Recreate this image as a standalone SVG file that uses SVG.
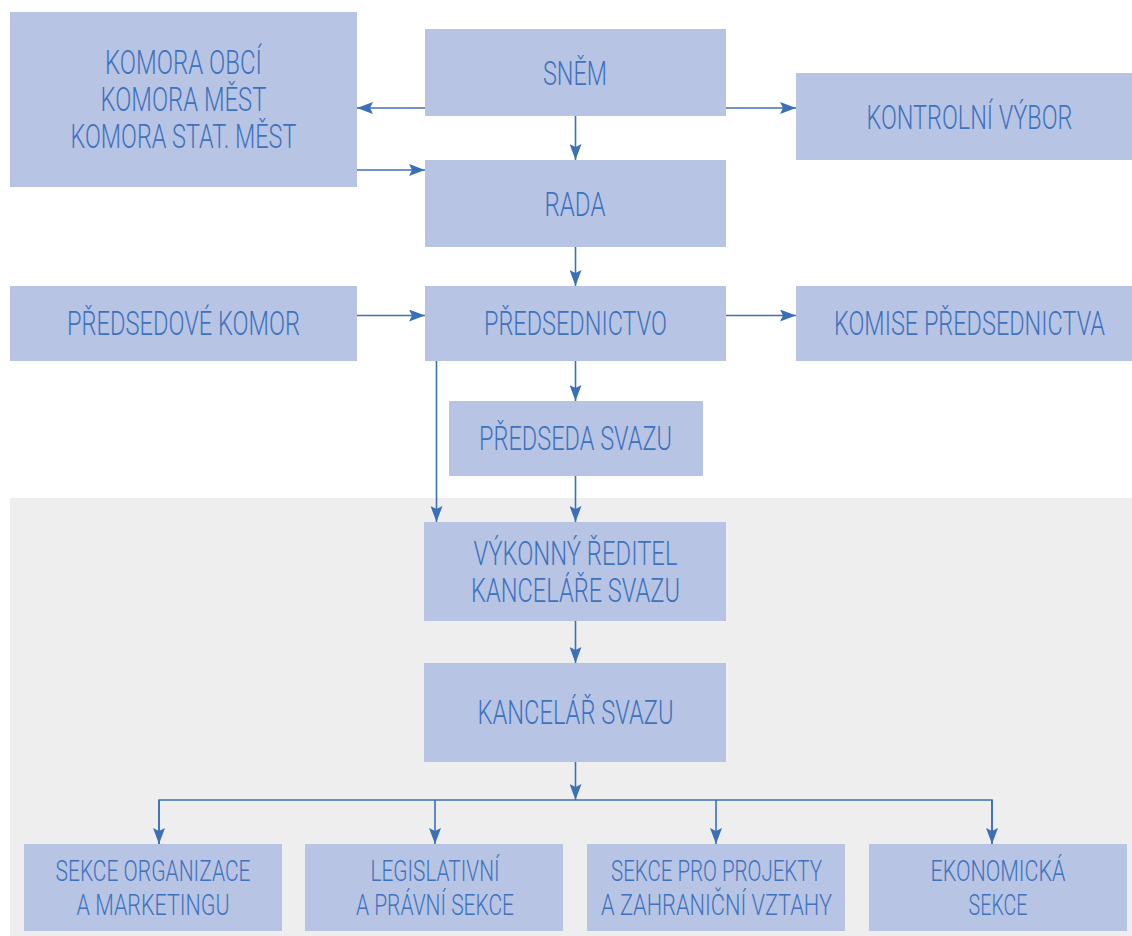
<svg xmlns="http://www.w3.org/2000/svg" width="1132" height="936" viewBox="0 0 1132 936">
<style>
.box{fill:#b7c4e4}
.t{font-family:Roboto,"Liberation Sans",Arial,sans-serif;font-weight:300;font-size:33px;fill:#3f72bd;text-anchor:middle}
.s{font-size:30px}
.c{stroke:#3b70b9;stroke-width:1.6;fill:none}
.a{marker-end:url(#ah)}
</style>
<defs>
<marker id="ah" markerUnits="userSpaceOnUse" markerWidth="16" markerHeight="12" refX="16" refY="6" orient="auto" viewBox="0 0 16 12">
<path d="M0,0 L16,6 L0,12 L3,6 z" fill="#3b70b9"/>
</marker>
</defs>
<rect x="0" y="0" width="1132" height="936" fill="#ffffff"/>
<rect x="10" y="498" width="1122" height="438" fill="#eeeeee"/>

<g id="connectors">
<line class="c a" x1="425" y1="108" x2="357" y2="108"/>
<line class="c a" x1="726" y1="108" x2="796" y2="108"/>
<line class="c a" x1="575.5" y1="116" x2="575.5" y2="160"/>
<line class="c a" x1="357" y1="170" x2="425" y2="170"/>
<line class="c a" x1="575.5" y1="247" x2="575.5" y2="286"/>
<line class="c a" x1="357" y1="315.5" x2="425" y2="315.5"/>
<line class="c a" x1="726" y1="315.5" x2="796" y2="315.5"/>
<line class="c a" x1="575.5" y1="361" x2="575.5" y2="401"/>
<line class="c a" x1="436.5" y1="361" x2="436.5" y2="522"/>
<line class="c a" x1="575.5" y1="476" x2="575.5" y2="522"/>
<line class="c a" x1="575.5" y1="621" x2="575.5" y2="663"/>
<line class="c a" x1="575.5" y1="762" x2="575.5" y2="800"/>
<polyline class="c" points="159,844 159,800 992,800 992,844"/>
<line class="c a" x1="159" y1="800" x2="159" y2="844"/>
<line class="c a" x1="435" y1="800" x2="435" y2="844"/>
<line class="c a" x1="716" y1="800" x2="716" y2="844"/>
<line class="c a" x1="992" y1="800" x2="992" y2="844"/>
</g>

<g id="snem">
<rect class="box" x="425" y="29" width="301" height="87"/>
<text class="t" transform="scale(0.65 1)" x="884.6" y="85" textLength="98.5" lengthAdjust="spacingAndGlyphs">SNĚM</text>
</g>
<g id="komory">
<rect class="box" x="10" y="12" width="347" height="175"/>
<text class="t" transform="scale(0.65 1)" x="282.3" y="74" textLength="241.5" lengthAdjust="spacingAndGlyphs">KOMORA OBCÍ</text>
<text class="t" transform="scale(0.65 1)" x="282.3" y="111.5" textLength="255.4" lengthAdjust="spacingAndGlyphs">KOMORA MĚST</text>
<text class="t" transform="scale(0.65 1)" x="282.3" y="148" textLength="347.7" lengthAdjust="spacingAndGlyphs">KOMORA STAT. MĚST</text>
</g>
<g id="kontrolni-vybor">
<rect class="box" x="796" y="73" width="336" height="87"/>
<text class="t" transform="scale(0.65 1)" x="1491.5" y="129" textLength="316.9" lengthAdjust="spacingAndGlyphs">KONTROLNÍ VÝBOR</text>
</g>
<g id="rada">
<rect class="box" x="425" y="160" width="301" height="87"/>
<text class="t" transform="scale(0.65 1)" x="884.6" y="216" textLength="93.8" lengthAdjust="spacingAndGlyphs">RADA</text>
</g>
<g id="predsedove-komor">
<rect class="box" x="10" y="286" width="347" height="75"/>
<text class="t" transform="scale(0.65 1)" x="282.3" y="335" textLength="358.5" lengthAdjust="spacingAndGlyphs">PŘEDSEDOVÉ KOMOR</text>
</g>
<g id="predsednictvo">
<rect class="box" x="425" y="286" width="301" height="75"/>
<text class="t" transform="scale(0.65 1)" x="885.4" y="335" textLength="281.5" lengthAdjust="spacingAndGlyphs">PŘEDSEDNICTVO</text>
</g>
<g id="komise">
<rect class="box" x="796" y="286" width="336" height="75"/>
<text class="t" transform="scale(0.65 1)" x="1491.5" y="335" textLength="416.9" lengthAdjust="spacingAndGlyphs">KOMISE PŘEDSEDNICTVA</text>
</g>
<g id="predseda">
<rect class="box" x="449" y="401" width="254" height="75"/>
<text class="t" transform="scale(0.65 1)" x="885.4" y="450" textLength="296.9" lengthAdjust="spacingAndGlyphs">PŘEDSEDA SVAZU</text>
</g>
<g id="vykonny-reditel">
<rect class="box" x="424" y="522" width="302" height="99"/>
<text class="t" transform="scale(0.65 1)" x="885.4" y="565" textLength="313.8" lengthAdjust="spacingAndGlyphs">VÝKONNÝ ŘEDITEL</text>
<text class="t" transform="scale(0.65 1)" x="885.4" y="602" textLength="321.5" lengthAdjust="spacingAndGlyphs">KANCELÁŘE SVAZU</text>
</g>
<g id="kancelar">
<rect class="box" x="424" y="663" width="302" height="99"/>
<text class="t" transform="scale(0.65 1)" x="885.4" y="724" textLength="301.5" lengthAdjust="spacingAndGlyphs">KANCELÁŘ SVAZU</text>
</g>
<g id="sekce-organizace">
<rect class="box" x="24" y="844" width="258" height="87"/>
<text class="t s" transform="scale(0.65 1)" x="235.4" y="881" textLength="300" lengthAdjust="spacingAndGlyphs">SEKCE ORGANIZACE</text>
<text class="t s" transform="scale(0.65 1)" x="235.4" y="915.5" textLength="235.4" lengthAdjust="spacingAndGlyphs">A MARKETINGU</text>
</g>
<g id="legislativni">
<rect class="box" x="305" y="844" width="258" height="87"/>
<text class="t s" transform="scale(0.65 1)" x="669.2" y="881" textLength="198.5" lengthAdjust="spacingAndGlyphs">LEGISLATIVNÍ</text>
<text class="t s" transform="scale(0.65 1)" x="669.2" y="915.5" textLength="243.1" lengthAdjust="spacingAndGlyphs">A PRÁVNÍ SEKCE</text>
</g>
<g id="projekty">
<rect class="box" x="587" y="844" width="258" height="87"/>
<text class="t s" transform="scale(0.65 1)" x="1102.3" y="881" textLength="324.6" lengthAdjust="spacingAndGlyphs">SEKCE PRO PROJEKTY</text>
<text class="t s" transform="scale(0.65 1)" x="1102.3" y="915.5" textLength="355.4" lengthAdjust="spacingAndGlyphs">A ZAHRANIČNÍ VZTAHY</text>
</g>
<g id="ekonomicka">
<rect class="box" x="869" y="844" width="258" height="87"/>
<text class="t s" transform="scale(0.65 1)" x="1535.4" y="881" textLength="207.7" lengthAdjust="spacingAndGlyphs">EKONOMICKÁ</text>
<text class="t s" transform="scale(0.65 1)" x="1535.4" y="915.5" textLength="90.8" lengthAdjust="spacingAndGlyphs">SEKCE</text>
</g>
</svg>
